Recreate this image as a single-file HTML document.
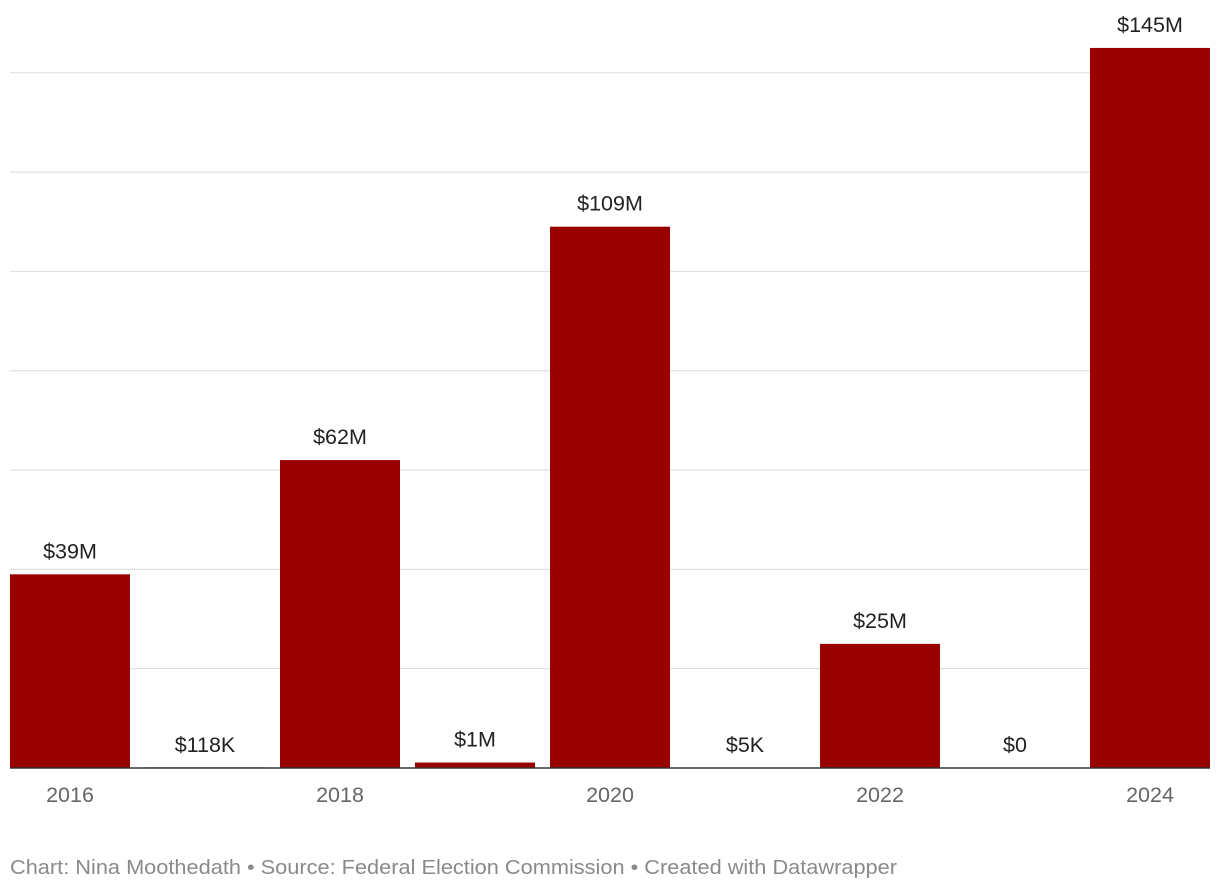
<!DOCTYPE html>
<html><head><meta charset="utf-8">
<style>
body{margin:0;background:#fff;width:1220px;height:890px;overflow:hidden;font-family:"Liberation Sans",Arial,sans-serif;}
svg text{font-family:"Liberation Sans",Arial,sans-serif;}
</style></head>
<body>
<svg id="chart" width="1220" height="890" xmlns="http://www.w3.org/2000/svg"></svg>
<script>
const categories = ["2016","2017","2018","2019","2020","2021","2022","2023","2024"];
const values = [39, 0.118, 62, 1.1, 109, 0.005, 25, 0, 145];
const valueLabels = ["$39M","$118K","$62M","$1M","$109M","$5K","$25M","$0","$145M"];
const gridTicks = [20, 40, 60, 80, 100, 120, 140];
const xTickLabels = ["2016","","2018","","2020","","2022","","2024"];

const svg = document.getElementById('chart');
const NS = "http://www.w3.org/2000/svg";
const baseY = 768, pxPerUnit = 4.966;
const y = v => baseY - v * pxPerUnit;
const x0 = 10, step = 135, bw = 120;
const xLeft = i => x0 + i * step;
function mk(tag, attrs){const e=document.createElementNS(NS,tag);for(const k in attrs)e.setAttribute(k,attrs[k]);svg.appendChild(e);return e;}

gridTicks.forEach(t=>{
  const l = mk('line',{x1:10,x2:1210,y1:y(t),y2:y(t),stroke:'#dcdcdc','stroke-width':1});
  
  
});
values.forEach((v,i)=>{
  const h = Math.max(v*pxPerUnit,0);
  const r = mk('rect',{x:xLeft(i),y:baseY-h,width:bw,height:h,fill:'#990000'});
  
  
  const ly = h > 3 ? baseY - h - 16 : baseY - 16;
  const t = mk('text',{x:xLeft(i)+bw/2,y:ly,'text-anchor':'middle','font-size':21.5,fill:'#222'});
  t.textContent = valueLabels[i];
  
  
});
const base = mk('line',{x1:10,x2:1210,y1:baseY,y2:baseY,stroke:'#333','stroke-width':1.5});


xTickLabels.forEach((lab,i)=>{
  if(!lab) return;
  const t = mk('text',{x:xLeft(i)+bw/2,y:802,'text-anchor':'middle','font-size':21.5,fill:'#666'});
  t.textContent = lab;
  
  
});
const f = mk('text',{x:10,y:874,'font-size':20.5,fill:'#8a8a8a',textLength:887,lengthAdjust:'spacingAndGlyphs'});
f.textContent = "Chart: Nina Moothedath • Source: Federal Election Commission • Created with Datawrapper";


</script>
</body></html>
